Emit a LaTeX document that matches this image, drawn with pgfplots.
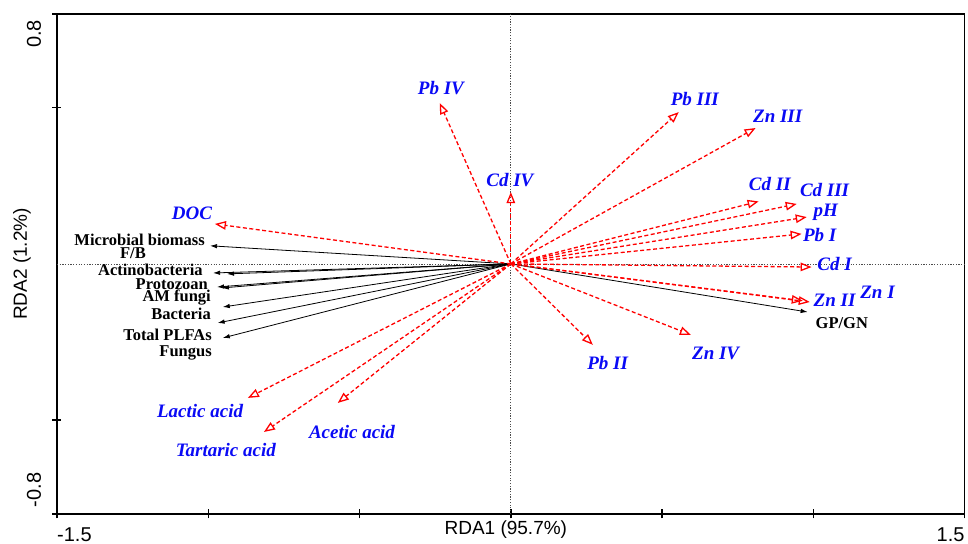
\documentclass[border=0pt]{standalone}
\usepackage{pgfplots}
\pgfplotsset{compat=1.18}
\usepackage{fontspec}
\setmainfont{Liberation Serif}
\setsansfont{Liberation Sans}
\usetikzlibrary{arrows.meta}
\definecolor{lblue}{RGB}{10,10,245}
\tikzset{
  redarr/.style={red, line width=1.3pt, dash pattern=on 4pt off 2.5pt,
     -{Triangle[open, length=11pt, width=8.5pt, line width=1.3pt]}},
  blkarr/.style={black, line width=0.8pt, -{Latex[length=7pt, width=4.5pt]}},
  bl/.style={font=\fontsize{19}{20}\selectfont\bfseries\itshape, text=lblue, inner sep=0pt},
  bk/.style={font=\fontsize{16.5}{17}\selectfont\bfseries, text=black, inner sep=0pt},
}
\begin{document}
\begin{tikzpicture}
\begin{axis}[
  scale only axis, width=908pt, height=500pt,
  xmin=-1.5, xmax=1.5, ymin=-0.8, ymax=0.8,
  axis line style={line width=1.6pt},
  xtick={-1.5,-1,-0.5,0,0.5,1,1.5}, ytick={-0.8,-0.5,0.5,0.8},
  xticklabels={}, yticklabels={},
  tick align=center, xtick pos=bottom, ytick pos=left,
  major tick length=9pt, tick style={line width=1.4pt, black},
  clip=false,
]
% zero lines
\addplot[black!70, line width=0.8pt, dash pattern=on 1.2pt off 1.5pt, no markers] coordinates {(-1.5,0) (1.5,0)};
\addplot[black!70, line width=0.8pt, dash pattern=on 1.2pt off 1.5pt, no markers] coordinates {(0,-0.8) (0,0.8)};

% black arrows (microbial variables)
\addplot[blkarr, no markers] coordinates {(0,0) (-0.994,0.058)};
\addplot[blkarr, no markers] coordinates {(0,0) (-0.984,-0.029)};
\addplot[blkarr, no markers] coordinates {(0,0) (-0.938,-0.032)};
\addplot[blkarr, no markers] coordinates {(0,0) (-0.971,-0.074)};
\addplot[blkarr, no markers] coordinates {(0,0) (-0.955,-0.077)};
\addplot[blkarr, no markers] coordinates {(0,0) (-0.952,-0.138)};
\addplot[blkarr, no markers] coordinates {(0,0) (-0.969,-0.189)};
\addplot[blkarr, no markers] coordinates {(0,0) (-0.952,-0.237)};
\addplot[blkarr, no markers] coordinates {(0,0) (0.981,-0.154)};

% red arrows (environmental variables)
\addplot[redarr, no markers] coordinates {(0,0) (-0.978,0.128)};   % DOC
\addplot[redarr, no markers] coordinates {(0,0) (-0.235,0.515)};   % Pb IV
\addplot[redarr, no markers] coordinates {(0,0) (0,0.230)};        % Cd IV
\addplot[redarr, no markers] coordinates {(0,0) (0.555,0.486)};    % Pb III
\addplot[redarr, no markers] coordinates {(0,0) (0.809,0.435)};    % Zn III
\addplot[redarr, no markers] coordinates {(0,0) (0.819,0.200)};    % Cd II
\addplot[redarr, no markers] coordinates {(0,0) (0.945,0.192)};    % Cd III
\addplot[redarr, no markers] coordinates {(0,0) (0.978,0.150)};    % pH
\addplot[redarr, no markers] coordinates {(0,0) (0.961,0.096)};    % Pb I
\addplot[redarr, no markers] coordinates {(0,0) (0.994,-0.010)};   % Cd I
\addplot[redarr, no markers] coordinates {(0,0) (0.988,-0.122)};   % Zn II
\addplot[redarr, no markers] coordinates {(0,0) (0.965,-0.118)};   % Zn I
\addplot[redarr, no markers] coordinates {(0,0) (0.271,-0.259)};   % Pb II
\addplot[redarr, no markers] coordinates {(0,0) (0.595,-0.227)};   % Zn IV
\addplot[redarr, no markers] coordinates {(0,0) (-0.869,-0.429)};  % Lactic acid
\addplot[redarr, no markers] coordinates {(0,0) (-0.816,-0.538)};  % Tartaric acid
\addplot[redarr, no markers] coordinates {(0,0) (-0.572,-0.445)};  % Acetic acid

% blue labels
\node[bl] at (axis cs:-1.054,0.163) {DOC};
\node[bl] at (axis cs:-0.231,0.563) {Pb IV};
\node[bl] at (axis cs:-0.003,0.269) {Cd IV};
\node[bl] at (axis cs:0.608,0.528) {Pb III};
\node[bl] at (axis cs:0.882,0.474) {Zn III};
\node[bl] at (axis cs:0.856,0.256) {Cd II};
\node[bl] at (axis cs:1.037,0.237) {Cd III};
\node[bl] at (axis cs:1.041,0.166) {pH};
\node[bl] at (axis cs:1.021,0.093) {Pb I};
\node[bl] at (axis cs:1.070,0.000) {Cd I};
\node[bl] at (axis cs:1.070,-0.118) {Zn II};
\node[bl] at (axis cs:1.212,-0.090) {Zn I};
\node[bl] at (axis cs:0.320,-0.317) {Pb II};
\node[bl] at (axis cs:0.677,-0.288) {Zn IV};
\node[bl] at (axis cs:-1.027,-0.470) {Lactic acid};
\node[bl] at (axis cs:-0.942,-0.595) {Tartaric acid};
\node[bl] at (axis cs:-0.525,-0.538) {Acetic acid};

% black labels
\node[bk, anchor=east] at (axis cs:-1.011,0.077) {Microbial biomass};
\node[bk] at (axis cs:-1.249,0.036) {F/B};
\node[bk, anchor=east] at (axis cs:-1.018,-0.019) {Actinobacteria};
\node[bk, anchor=east] at (axis cs:-1.001,-0.064) {Protozoan};
\node[bk, anchor=east] at (axis cs:-0.991,-0.108) {AM fungi};
\node[bk, anchor=east] at (axis cs:-0.991,-0.160) {Bacteria};
\node[bk, anchor=east] at (axis cs:-0.988,-0.227) {Total PLFAs};
\node[bk, anchor=east] at (axis cs:-0.988,-0.285) {Fungus};
\node[bk] at (axis cs:1.094,-0.189) {GP/GN};

% tick labels and axis titles
\node[font=\sffamily\fontsize{20}{21}\selectfont, anchor=west, inner sep=0pt] at ([yshift=-21pt]rel axis cs:0,0) {-1.5};
\node[font=\sffamily\fontsize{20}{21}\selectfont, anchor=east, inner sep=0pt] at ([yshift=-21pt]rel axis cs:1,0) {1.5};
\node[font=\sffamily\fontsize{20}{21}\selectfont, rotate=90, inner sep=0pt] at ([xshift=-23pt,yshift=-20pt]rel axis cs:0,1) {0.8};
\node[font=\sffamily\fontsize{20}{21}\selectfont, rotate=90, inner sep=0pt] at ([xshift=-23pt,yshift=24pt]rel axis cs:0,0) {-0.8};
\node[font=\sffamily\fontsize{19}{20}\selectfont, inner sep=0pt] at ([xshift=-5pt,yshift=-16pt]rel axis cs:0.5,0) {RDA1 (95.7\%)};
\node[font=\sffamily\fontsize{19}{20}\selectfont, rotate=90, inner sep=0pt] at ([xshift=-35pt]rel axis cs:0,0.5) {RDA2 (1.2\%)};

\coordinate (ll) at (rel axis cs:0,0);
\coordinate (ur) at (rel axis cs:1,1);
\end{axis}
\path ([shift={(-57pt,-30pt)}]ll) rectangle ([shift={(3pt,14pt)}]ur);
\end{tikzpicture}
\end{document}
